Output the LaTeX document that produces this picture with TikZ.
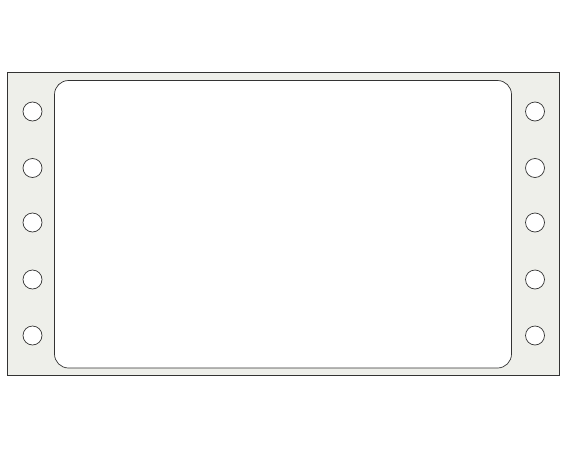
\documentclass[tikz,border=0pt]{standalone}
\begin{document}
\begin{tikzpicture}[x=1pt,y=-1pt,
  sheet/.style={draw=black!80,fill=paper,line width=0.7pt},
  label/.style={draw=black!80,fill=white,line width=0.7pt,rounded corners=14pt},
  hole/.style={draw=black!80,fill=white,line width=0.7pt}]
\definecolor{paper}{HTML}{EEEFEA}
\useasboundingbox (0,0) rectangle (567,450);
\draw[sheet] (7.5,72.5) rectangle (559.5,375);
\draw[label] (54.5,80.5) rectangle (511.5,368);
\foreach \y [count=\i] in {111.5,168,222.5,279.5,335.5}{
  \draw[hole] (32.5,\y) circle (9.5);
  \draw[hole] (535,\y) circle (9.5);
}
\end{tikzpicture}
\end{document}
